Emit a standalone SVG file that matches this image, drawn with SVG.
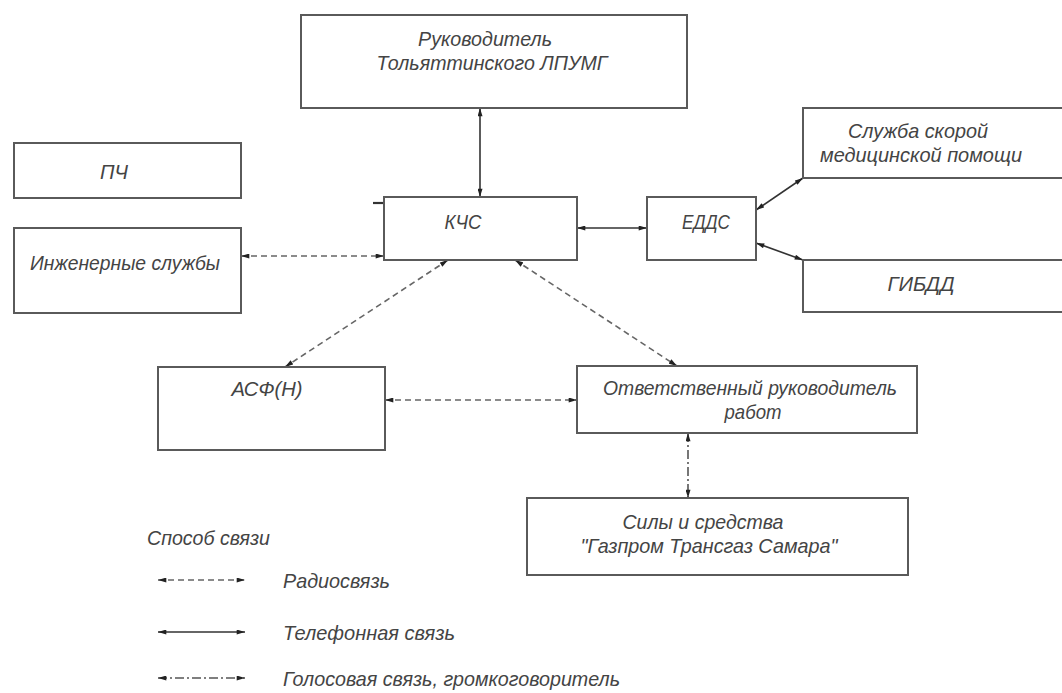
<svg xmlns="http://www.w3.org/2000/svg" width="1062" height="693" viewBox="0 0 1062 693">
<style>
.box{fill:#fff;stroke:#5a5a5a;stroke-width:2}
.t{font-family:"Liberation Sans",Arial,sans-serif;font-style:italic;font-size:21px;fill:#444}
.ln{stroke:#333;stroke-width:1.6;fill:none}
.solid{marker-start:url(#ah);marker-end:url(#ah)}
.dash{stroke:#666;stroke-dasharray:6 4;marker-start:url(#ah);marker-end:url(#ah)}
.dd{stroke:#555;stroke-dasharray:9 3 2 3;marker-start:url(#ah);marker-end:url(#ah)}
</style>
<defs>
<marker id="ah" viewBox="0 0 10 6" refX="10" refY="3" markerWidth="9" markerHeight="5" markerUnits="userSpaceOnUse" orient="auto-start-reverse">
<path d="M0,0 L10,3 L0,6 z" fill="#222"/>
</marker>
</defs>
<rect width="1062" height="693" fill="#fff"/>

<g id="connectors">
<line class="ln solid" x1="480" y1="108" x2="480" y2="197"/>
<line class="ln dash" x1="241" y1="256" x2="384" y2="256"/>
<line class="ln solid" x1="577" y1="228" x2="647" y2="228"/>
<line class="ln solid" x1="756" y1="210" x2="803" y2="178"/>
<line class="ln solid" x1="756" y1="243" x2="803" y2="260"/>
<line class="ln dash" x1="448" y1="260" x2="285" y2="367"/>
<line class="ln dash" x1="515" y1="260" x2="677" y2="366"/>
<line class="ln dash" x1="385" y1="400" x2="577" y2="400"/>
<line class="ln dd" x1="688" y1="433" x2="688" y2="498"/>
<line x1="373" y1="203" x2="384" y2="203" stroke="#333" stroke-width="2.2"/>
</g>

<g id="n-rukovoditel">
<rect class="box" x="301" y="15" width="386" height="93"/>
<text class="t" x="485" y="46" text-anchor="middle" textLength="134" lengthAdjust="spacingAndGlyphs">Руководитель</text>
<text class="t" x="492" y="70" text-anchor="middle" textLength="231" lengthAdjust="spacingAndGlyphs">Тольяттинского ЛПУМГ</text>
</g>

<g id="n-pch">
<rect class="box" x="14" y="143" width="227" height="55"/>
<text class="t" x="114" y="179" text-anchor="middle" textLength="28" lengthAdjust="spacingAndGlyphs">ПЧ</text>
</g>

<g id="n-inzh">
<rect class="box" x="14" y="228" width="227" height="85"/>
<text class="t" x="125" y="270" text-anchor="middle" textLength="190" lengthAdjust="spacingAndGlyphs">Инженерные службы</text>
</g>

<g id="n-kchs">
<rect class="box" x="384" y="197" width="193" height="63"/>
<text class="t" x="463" y="229" text-anchor="middle" textLength="37" lengthAdjust="spacingAndGlyphs">КЧС</text>
</g>

<g id="n-edds">
<rect class="box" x="647" y="197" width="109" height="63"/>
<text class="t" x="706" y="229" text-anchor="middle" textLength="48" lengthAdjust="spacingAndGlyphs">ЕДДС</text>
</g>

<g id="n-skoraya">
<rect class="box" x="803" y="108" width="270" height="70"/>
<text class="t" x="918" y="138" text-anchor="middle" textLength="140" lengthAdjust="spacingAndGlyphs">Служба скорой</text>
<text class="t" x="921" y="162" text-anchor="middle" textLength="202" lengthAdjust="spacingAndGlyphs">медицинской помощи</text>
</g>

<g id="n-gibdd">
<rect class="box" x="803" y="260" width="270" height="52"/>
<text class="t" x="921" y="291" text-anchor="middle" textLength="67" lengthAdjust="spacingAndGlyphs">ГИБДД</text>
</g>

<g id="n-asf">
<rect class="box" x="158" y="367" width="227" height="83"/>
<text class="t" x="267" y="396" text-anchor="middle" textLength="71" lengthAdjust="spacingAndGlyphs">АСФ(Н)</text>
</g>

<g id="n-otv">
<rect class="box" x="577" y="366" width="340" height="67"/>
<text class="t" x="750" y="395" text-anchor="middle" textLength="294" lengthAdjust="spacingAndGlyphs">Ответственный руководитель</text>
<text class="t" x="753" y="419" text-anchor="middle" textLength="57" lengthAdjust="spacingAndGlyphs">работ</text>
</g>

<g id="n-sily">
<rect class="box" x="527" y="498" width="381" height="77"/>
<text class="t" x="703" y="529" text-anchor="middle" textLength="161" lengthAdjust="spacingAndGlyphs">Силы и средства</text>
<text class="t" x="709" y="553" text-anchor="middle" textLength="257" lengthAdjust="spacingAndGlyphs">"Газпром Трансгаз Самара"</text>
</g>

<g id="legend">
<text class="t" x="147" y="545" textLength="123" lengthAdjust="spacingAndGlyphs">Способ связи</text>
<line class="ln dash" x1="158" y1="580" x2="245" y2="580"/>
<text class="t" x="283" y="588" textLength="107" lengthAdjust="spacingAndGlyphs">Радиосвязь</text>
<line class="ln solid" x1="158" y1="632" x2="245" y2="632"/>
<text class="t" x="283" y="640" textLength="172" lengthAdjust="spacingAndGlyphs">Телефонная связь</text>
<line class="ln dd" x1="158" y1="678" x2="245" y2="678"/>
<text class="t" x="283" y="686" textLength="337" lengthAdjust="spacingAndGlyphs">Голосовая связь, громкоговоритель</text>
</g>
</svg>
